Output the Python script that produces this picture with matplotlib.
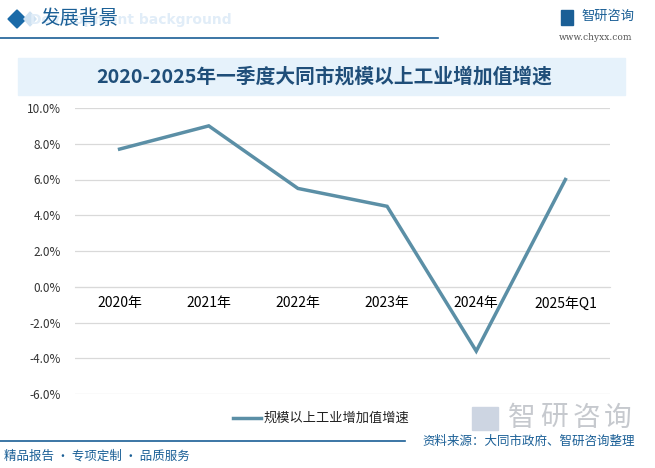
import matplotlib.pyplot as plt
from matplotlib.patches import Rectangle, Polygon
from matplotlib.lines import Line2D

plt.rcParams['font.family'] = ['Noto Sans CJK SC', 'DejaVu Sans']

years = ["2020年", "2021年", "2022年", "2023年", "2024年", "2025年Q1"]
growth = [7.7, 9.0, 5.5, 4.5, -3.6, 6.0]
yticks = [-6, -4, -2, 0, 2, 4, 6, 8, 10]

title = "2020-2025年一季度大同市规模以上工业增加值增速"
series_name = "规模以上工业增加值增速"
source = "资料来源：大同市政府、智研咨询整理"

W, H = 655, 468
fig = plt.figure(figsize=(W / 100, H / 100), dpi=100)
fig.patch.set_facecolor("white")

def fx(x):
    return x / W

def fy(y):
    return 1 - y / H

dark_blue = "#1a5f96"
line_color = "#5b8fa6"

# header
fig.text(fx(30), fy(20), "Development background", fontsize=10, fontweight="bold",
         color="#e1edf8", va="center", ha="left", family="DejaVu Sans")
fig.patches.append(Polygon([(fx(8), fy(19)), (fx(17), fy(10)), (fx(26), fy(19)), (fx(17), fy(28))],
                           closed=True, transform=fig.transFigure, color="#1a6aa8"))
fig.patches.append(Polygon([(fx(24), fy(19)), (fx(30), fy(12)), (fx(36), fy(19)), (fx(30), fy(26))],
                           closed=True, transform=fig.transFigure, color="#cfe2f2"))
fig.text(fx(40), fy(18), "发展背景", fontsize=14, color="#1a5f96", va="center", ha="left")
fig.lines.append(Line2D([0, fx(438)], [fy(38), fy(38)], transform=fig.transFigure,
                        color=dark_blue, lw=1.2))
fig.patches.append(Rectangle((fx(561), fy(25)), fx(12), 15 / H, transform=fig.transFigure,
                             color="#1a5f96"))
fig.text(fx(581), fy(16), "智研咨询", fontsize=9.5, color="#1a5f96", va="center", ha="left")
fig.text(fx(596), fy(37), "www.chyxx.com", fontsize=6.5, color="#555555", va="center",
         ha="center", family="DejaVu Serif")

# title box
fig.patches.append(Rectangle((fx(18), fy(95)), fx(625 - 18), 37 / H, transform=fig.transFigure,
                             color="#e6f2fb", zorder=0))
fig.text(fx(324), fy(77), title, fontsize=14.2, fontweight="bold", color="#1f4e79",
         va="center", ha="center")

# chart
ax = fig.add_axes([fx(75), fy(394), fx(610 - 75), (394 - 108) / H])
x = list(range(len(years)))
ax.plot(x, growth, color=line_color, lw=2.5, solid_joinstyle="miter", zorder=3)
ax.set_xlim(-0.5, len(years) - 0.5)
ax.set_ylim(-6, 10)
ax.set_yticks(yticks)
ax.set_yticklabels([f"{v:.1f}%" for v in yticks], fontsize=8.5, color="#333333")
ax.yaxis.grid(True, color="#d9d9d9", lw=0.9)
ax.set_axisbelow(True)
ax.set_xticks(x)
ax.set_xticklabels(years, fontsize=8.5, color="#333333")
for s in ["top", "right", "left"]:
    ax.spines[s].set_visible(False)
ax.spines["bottom"].set_position(("data", 0))
ax.spines["bottom"].set_color("#d9d9d9")
ax.tick_params(axis="x", length=0, pad=7)
ax.tick_params(axis="y", length=0, pad=10)

# legend
fig.lines.append(Line2D([fx(233), fx(261)], [fy(418), fy(418)], transform=fig.transFigure,
                        color=line_color, lw=2.5))
fig.text(fx(264), fy(418), series_name, fontsize=9.5, color="#222222", va="center", ha="left")

# watermark logo bottom right
fig.patches.append(Rectangle((fx(472), fy(430)), fx(26), 23 / H, transform=fig.transFigure,
                             color="#cdd5e2"))
for i, ch in enumerate("智研咨询"):
    fig.text(fx(522 + i * 32), fy(418), ch, fontsize=20, color="#c6c9ce",
             va="center", ha="center")

# footer
fig.lines.append(Line2D([0, fx(405)], [fy(441), fy(441)], transform=fig.transFigure,
                        color=dark_blue, lw=1.2))
fig.text(fx(422), fy(441), source, fontsize=9, color="#1a5f96", va="center", ha="left")
fig.text(fx(4), fy(456), "精品报告 · 专项定制 · 品质服务", fontsize=9, color="#1a5f96",
         va="center", ha="left")

fig.savefig("out.png", dpi=100)
